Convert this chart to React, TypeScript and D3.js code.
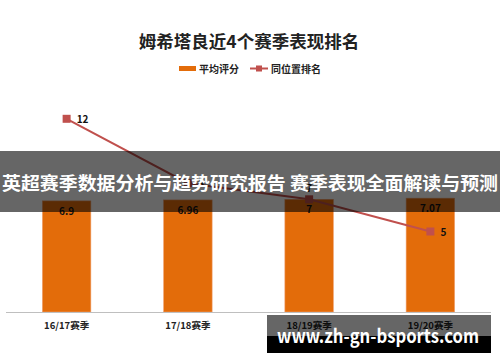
import React from "react";
import * as d3 from "d3";

const categories = ["16/17赛季", "17/18赛季", "18/19赛季", "19/20赛季"];
const avgRating = [6.9, 6.96, 7, 7.07];
const rankLabels = ["6.9", "6.96", "7", "7.07"];
const positionRank = [12, 8, 7, 5];

const W = 500;
const H = 362;
const FONT = "'Noto Sans CJK SC', 'Noto Sans', sans-serif";
const ORANGE = "#E36C0A";
const RED = "#C0504D";

export default function App() {
  const x = d3.scaleBand<string>().domain(categories).range([6, 491]).paddingInner(0.6).paddingOuter(0.3);
  const y = d3.scaleLinear().domain([0, 14]).range([312, 86.6]);
  const cx = (c: string) => (x(c) as number) + x.bandwidth() / 2;
  const line = d3
    .line<number>()
    .x((_, i) => cx(categories[i]))
    .y((d) => y(d));

  return (
    <svg
      width={W}
      height={H}
      style={{ position: "absolute", left: 0, top: 0, background: "#fff" }}
      fontFamily={FONT}
    >
      <rect width={W} height={H} fill="#fff" />
      <text x={249} y={48} textAnchor="middle" fontSize={17.5} fontWeight="bold" fill="#222">
        姆希塔良近4个赛季表现排名
      </text>
      {/* legend */}
      <rect x={179} y={66} width={17} height={5} fill={ORANGE} />
      <text x={199} y={72.5} fontSize={10} fontWeight="bold" fill="#222">
        平均评分
      </text>
      <line x1={250} x2={268} y1={68.5} y2={68.5} stroke={RED} strokeWidth={2} />
      <rect x={256} y={65.5} width={6} height={6} fill={RED} />
      <text x={271} y={72.5} fontSize={10} fontWeight="bold" fill="#222">
        同位置排名
      </text>

      {/* bars */}
      {categories.map((c, i) => (
        <g key={c}>
          <rect
            x={x(c)}
            y={y(avgRating[i])}
            width={x.bandwidth()}
            height={y(0) - y(avgRating[i])}
            fill={ORANGE}
            stroke="#F0A070"
            strokeWidth={0.6}
          />
          <text x={cx(c)} y={y(avgRating[i]) + 14} textAnchor="middle" fontSize={10} fontWeight="bold" fill="#111">
            {rankLabels[i]}
          </text>
          <text x={cx(c)} y={329} textAnchor="middle" fontSize={9.5} fontWeight="bold" fill="#222">
            {c}
          </text>
        </g>
      ))}
      <line x1={6} x2={491} y1={312.5} y2={312.5} stroke="#bfbfbf" strokeWidth={1} />

      {/* line */}
      <path d={line(positionRank) || ""} fill="none" stroke={RED} strokeWidth={2} />
      {positionRank.map((v, i) => (
        <g key={i}>
          <rect x={cx(categories[i]) - 4} y={y(v) - 4} width={8} height={8} fill={RED} />
          {i === 2 ? (
            <text x={cx(categories[i])} y={y(v) - 7} textAnchor="middle" fontSize={10} fontWeight="bold" fill="#111">
              {v}
            </text>
          ) : (
            <text x={cx(categories[i]) + 10} y={y(v) + 4} fontSize={10} fontWeight="bold" fill="#111">
              {v}
            </text>
          )}
        </g>
      ))}

      {/* overlay banner */}
      <rect x={0} y={151} width={W} height={61} fill="rgba(0,0,0,0.6)" />
      <text
        x={250}
        y={190}
        textAnchor="middle"
        fontSize={18}
        fontWeight="bold"
        fill="#fff"
        textLength={496}
        lengthAdjust="spacingAndGlyphs"
      >
        英超赛季数据分析与趋势研究报告 赛季表现全面解读与预测
      </text>

      {/* watermark */}
      <rect x={267} y={315} width={224} height={38} fill="rgba(0,0,0,0.6)" />
      <rect x={267} y={336} width={224} height={17} fill="#000" />
      <text
        x={378}
        y={343}
        textAnchor="middle"
        fontSize={19}
        fontWeight="bold"
        fill="#fff"
        textLength={202}
        lengthAdjust="spacingAndGlyphs"
      >
        www.zh-gn-bsports.com
      </text>
    </svg>
  );
}
